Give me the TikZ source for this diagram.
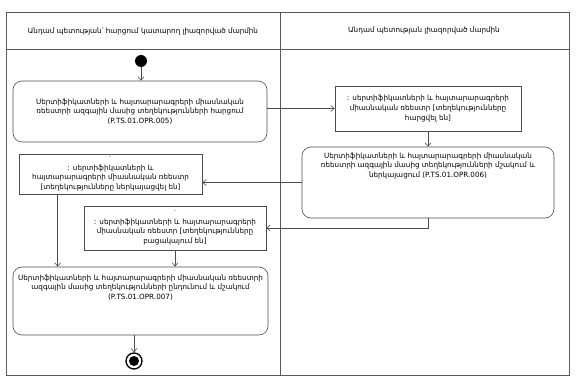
\documentclass[tikz,border=0pt]{standalone}
\usepackage{fontspec}
\setmainfont{DejaVu Sans}
\usetikzlibrary{arrows.meta,positioning}
\newcommand{\tx}{\fontsize{7.2}{9.6}\selectfont}
\newcommand{\mk}{{\fontsize{5}{4}\selectfont ¨}}

\begin{document}
\begin{tikzpicture}[
  x=1pt, y=-1pt,
  >={Straight Barb[length=3.5pt,width=6pt]},
  lane/.style={draw=black!65, line width=0.6pt},
  act/.style={draw=black!70, line width=0.6pt, rounded corners=9pt, align=center, font=\tx, inner sep=0pt},
  obj/.style={draw=black!70, line width=0.6pt, align=center, font=\tx, inner sep=0pt},
  txt/.style={align=center, font=\tx, inner sep=0pt},
  flow/.style={->, draw=black!70, line width=0.6pt},
]
  \useasboundingbox (0,0) rectangle (576,385);

  % swimlanes
  \draw[lane] (6,12) rectangle (569,375);
  \draw[lane] (6,49) -- (569,49);
  \draw[lane] (280,12) -- (280,375);
  \node[txt] (hl) at (143,31) {Անդամ պետության՝ հարցում կատարող լիազորված մարմին};
  \node[txt] (hr) at (424,31) {Անդամ պետության լիազորված մարմին};

  \node[circle, fill=black, minimum size=12pt, inner sep=0pt] (start) at (141,61) {};

  \node[act, minimum width=254pt, minimum height=61pt] (b1) at (140,111.5)
    {Սերտիֆիկատների և հայտարարագրերի միասնական\\ռեեստրի ազգային մասից տեղեկությունների հարցում\\(P.TS.01.OPR.005)};
  \node[obj, minimum width=186pt, minimum height=45pt] (o1) at (428,108.5)
    {: սերտիֆիկատների և հայտարարագրերի\\միասնական ռեեստր [տեղեկությունները\\հարցվել են]};

  \node[act, minimum width=252pt, minimum height=71pt] (b2) at (428,182.5) {};
  \node[txt, anchor=north] (b2t) at ([yshift=-6pt]b2.north)
    {Սերտիֆիկատների և հայտարարագրերի միասնական\\ռեեստրի ազգային մասից տեղեկությունների մշակում և\\ներկայացում (P.TS.01.OPR.006)};

  \node[obj, minimum width=183pt, minimum height=40pt] (o2) at (110.5,174)
    {\mk\\: սերտիֆիկատների և\\հայտարարագրերի միասնական ռեեստր\\{[}տեղեկությունները ներկայացվել են{]}};
  \node[obj, minimum width=182pt, minimum height=44pt] (o3) at (175,228)
    {\mk\\: սերտիֆիկատների և հայտարարագրերի\\միասնական ռեեստր [տեղեկությունները\\բացակայում են]};

  \node[act, minimum width=255pt, minimum height=68pt] (b3) at (140.5,301) {};
  \node[txt, anchor=north] (b3t) at ([yshift=-8pt]b3.north)
    {Սերտիֆիկատների և հայտարարագրերի միասնական ռեեստրի\\ազգային մասից տեղեկությունների ընդունում և մշակում\\(P.TS.01.OPR.007)};

  \node[circle, draw=black, line width=1.3pt, minimum size=16pt, inner sep=0pt] (stop) at (134,361) {};
  \node[circle, fill=black, minimum size=10pt, inner sep=0pt] (stopdot) at (stop) {};

  % control flow
  \draw[flow] (start) -- (start |- b1.north);
  \draw[flow] (b1.east |- o1.west) -- (o1.west);
  \draw[flow] (o1.south) -- (b2.north);
  \draw[flow] (b2.west) -- (o2.east |- b2.west);
  \draw[flow] (b2.south) |- (o3.east);
  \draw[flow] ([xshift=39pt]o2.south west) -- ([xshift=39pt]o2.south west |- b3.north);
  \draw[flow] (o3.south) -- (o3.south |- b3.north);
  \draw[flow] (stop |- b3.south) -- (stop.north);
\end{tikzpicture}
\end{document}
